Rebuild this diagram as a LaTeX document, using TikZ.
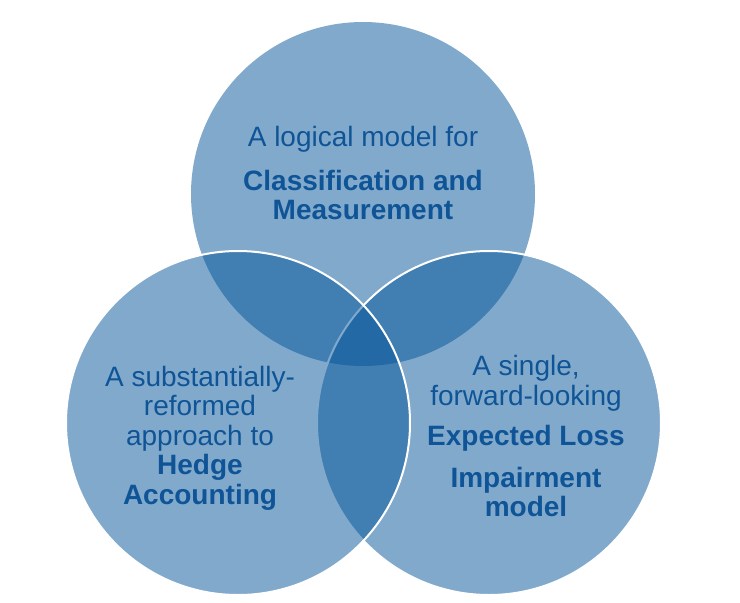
\documentclass[tikz,border=0pt]{standalone}
\usepackage{fontspec}
\setmainfont{Liberation Sans}
\usepackage{xcolor}
\definecolor{vennblue}{HTML}{035499}
\definecolor{venntext}{HTML}{0F5496}
\tikzset{
  % Venn circles and their texts
  vennset/.style={circle, draw=#1, line width=2pt, fill=vennblue, fill opacity=0.5, minimum size=344pt, inner sep=0pt},
  venntxt/.style={align=center, text=venntext, inner sep=0pt, font=\fontsize{28}{29.5}\selectfont}
}

\begin{document}
\begin{tikzpicture}[x=1pt, y=-1pt]
    \useasboundingbox (0,0) rectangle (740,603);

    % Place circles
    \node [vennset=none] (classif) at (363,194) {};
    \node [vennset=white] (impair) at (489,423) {};
    \node [vennset=white] (hedge) at (238,423) {};

    % Place texts
    \node [venntxt] (classiftext) at (363,173) {A logical model for\\[14pt]\textbf{Classification and}\\\textbf{Measurement}};
    \node [venntxt] (hedgetext) at (200,438) {A substantially-\\reformed\\approach to\\\textbf{Hedge}\\\textbf{Accounting}};
    \node [venntxt] (impairtext) at (526,436) {A single,\\forward-looking\\[11pt]\textbf{Expected Loss}\\[12pt]\textbf{Impairment}\\\textbf{model}};

\end{tikzpicture}
\end{document}
